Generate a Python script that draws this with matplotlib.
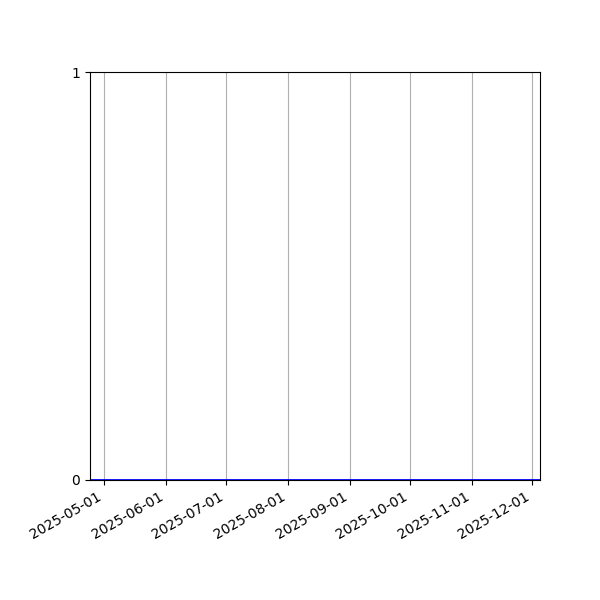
import matplotlib
matplotlib.use('Agg')
import matplotlib.pyplot as plt
import matplotlib.dates as mdates
import numpy as np
import pandas as pd

# 数据：每日数值全为0
start_date = '2025-04-24'
end_date = '2025-12-05'
dates = pd.date_range(start_date, end_date, freq='D')
values = [0] * len(dates)
y_ticks = [0, 1]


def draw():
    fig, ax = plt.subplots(figsize=(6, 6), dpi=100)
    ax.plot(dates, values, color='blue', linewidth=2)
    ax.set_xlim(dates[0], dates[-1])
    ax.set_ylim(0, 1)
    ax.set_yticks(y_ticks)
    ax.xaxis.set_major_locator(mdates.MonthLocator())
    ax.xaxis.set_major_formatter(mdates.DateFormatter('%Y-%m-%d'))
    ax.grid(axis='x', color='#b0b0b0')
    fig.autofmt_xdate()
    fig.subplots_adjust(left=0.15, right=0.9, top=0.88, bottom=0.2)
    fig.savefig('out.png')


if __name__ == '__main__':
    draw()
